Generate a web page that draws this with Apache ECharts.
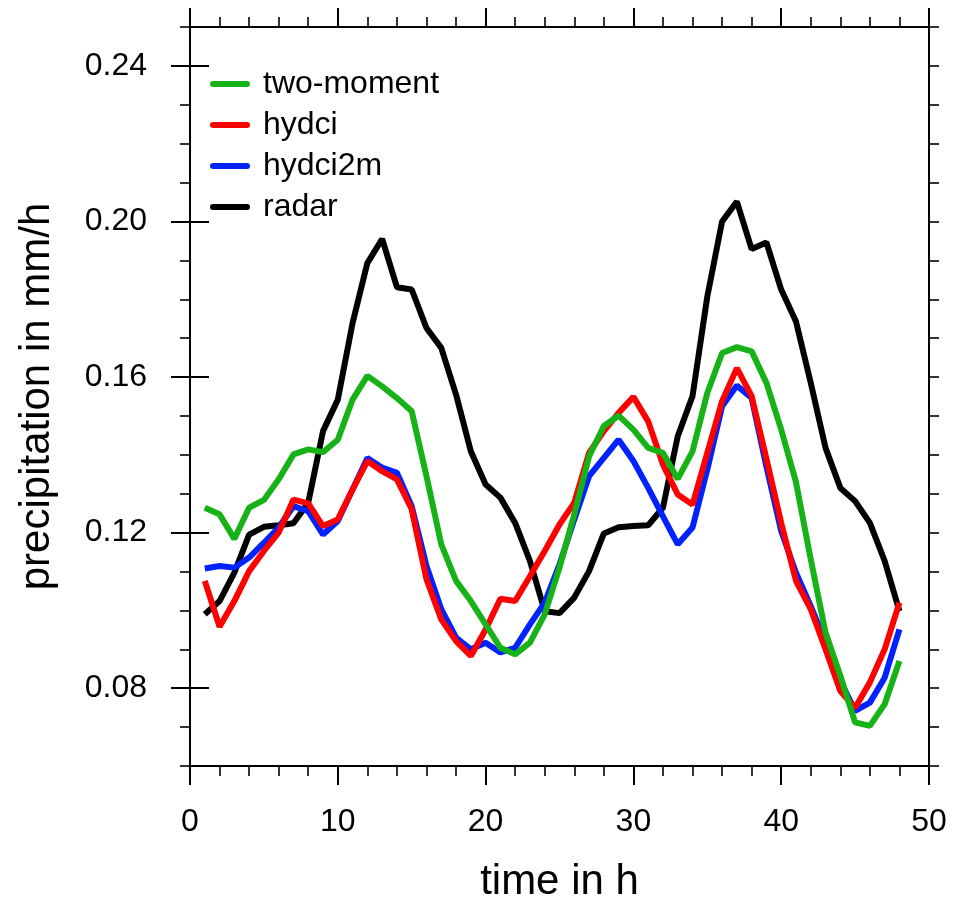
<!DOCTYPE html>
<html>
<head>
<meta charset="utf-8">
<script src="https://cdn.jsdelivr.net/npm/echarts@6/dist/echarts.min.js"></script>
<style>
html,body{margin:0;padding:0;background:#fff;}
#chart{width:961px;height:899px;}
</style>
</head>
<body>
<div id="chart"></div>
<script>
var hours = [1,2,3,4,5,6,7,8,9,10,11,12,13,14,15,16,17,18,19,20,21,22,23,24,25,26,27,28,29,30,31,32,33,34,35,36,37,38,39,40,41,42,43,44,45,46,47,48];

var radar = [0.0990,0.1024,0.1097,0.1195,0.1215,0.1219,0.1224,0.1277,0.1461,0.1542,0.1739,0.1893,0.1955,0.1831,0.1825,0.1726,0.1675,0.1555,0.1409,0.1324,0.1290,0.1225,0.1127,0.0998,0.0993,0.1033,0.1101,0.1198,0.1214,0.1217,0.1219,0.1264,0.1448,0.1551,0.1807,0.2000,0.2051,0.1929,0.1946,0.1825,0.1743,0.1585,0.1418,0.1315,0.1281,0.1225,0.1127,0.0998];

var hydci = [0.1076,0.0958,0.1024,0.1101,0.1153,0.1200,0.1285,0.1275,0.1217,0.1234,0.1311,0.1384,0.1358,0.1337,0.1260,0.1080,0.0977,0.0921,0.0883,0.0951,0.1030,0.1024,0.1088,0.1153,0.1221,0.1277,0.1405,0.1461,0.1508,0.1549,0.1486,0.1375,0.1298,0.1272,0.1405,0.1538,0.1623,0.1551,0.1390,0.1225,0.1076,0.1003,0.0900,0.0793,0.0750,0.0815,0.0900,0.1020];

var hydci2m = [0.1108,0.1114,0.1110,0.1136,0.1174,0.1213,0.1268,0.1255,0.1195,0.1230,0.1311,0.1392,0.1367,0.1354,0.1268,0.1114,0.1003,0.0930,0.0900,0.0917,0.0892,0.0904,0.0964,0.1020,0.1118,0.1234,0.1345,0.1392,0.1439,0.1384,0.1315,0.1242,0.1170,0.1213,0.1362,0.1525,0.1578,0.1546,0.1370,0.1204,0.1097,0.1011,0.0917,0.0819,0.0742,0.0763,0.0827,0.0951];

var twoMoment = [0.1264,0.1247,0.1184,0.1264,0.1284,0.1337,0.1401,0.1414,0.1407,0.1439,0.1542,0.1603,0.1576,0.1546,0.1512,0.1345,0.1170,0.1076,0.1024,0.0964,0.0904,0.0887,0.0917,0.0990,0.1110,0.1247,0.1396,0.1474,0.1501,0.1465,0.1418,0.1405,0.1338,0.1409,0.1559,0.1662,0.1677,0.1666,0.1585,0.1465,0.1330,0.1131,0.0943,0.0832,0.0712,0.0703,0.0759,0.0870];

var yMajorTicks = [0.08,0.12,0.16,0.20,0.24];
var xTitle = 'time in h';
var yTitle = 'precipitation in mm/h';

function pairs(vals){ return hours.map(function(h,i){ return [h, vals[i]]; }); }

var FONT = '"Liberation Sans", Arial, Helvetica, sans-serif';
var AX = {color:'#000', width:2};

function xAx(pos, labels){
  return {
    type:'value', position:pos, min:0, max:50, interval:10,
    axisLine:{show:true, onZero:false, lineStyle:AX},
    axisTick:{show:true, length:19, lineStyle:AX},
    minorTick:{show:true, splitNumber:5, length:10, lineStyle:{color:'#000', width:1.6}},
    splitLine:{show:false}, minorSplitLine:{show:false},
    axisLabel:{show:labels, fontSize:32, margin:40, color:'#000', fontFamily:FONT},
    name: labels ? xTitle : '', nameLocation:'middle', nameGap:95,
    nameTextStyle:{fontSize:42, color:'#000', fontFamily:FONT}
  };
}
function yMinor(pos, labels){
  return {
    type:'value', position:pos, min:0.06, max:0.25, interval:0.01,
    axisLine:{show:true, onZero:false, lineStyle:AX},
    axisTick:{show:true, length:10, lineStyle:{color:'#000', width:1.6}},
    splitLine:{show:false},
    axisLabel:{show:labels, fontSize:32, margin:43, color:'#000', fontFamily:FONT,
      formatter:function(v){ var k=Math.round(v*100); return (k%4===0 && k>=8 && k<=24) ? v.toFixed(2) : ''; }},
    name: labels ? yTitle : '', nameLocation:'middle', nameGap:132, nameRotate:90,
    nameTextStyle:{fontSize:42, color:'#000', fontFamily:FONT}
  };
}
function yMajor(pos){
  return {
    type:'value', position:pos, min:0.06, max:0.25,
    axisLine:{show:false},
    axisTick:{show:true, length:19, lineStyle:AX, customValues:yMajorTicks},
    splitLine:{show:false},
    axisLabel:{show:false}
  };
}

var chart = echarts.init(document.getElementById('chart'), null, {renderer:'canvas'});
var lineIcon = 'path://M3,0 L37,0 A3,3 0 0 1 37,6 L3,6 A3,3 0 0 1 3,0 Z';
function ser(name, vals, color){
  return {name:name, type:'line', data:pairs(vals), xAxisIndex:0, yAxisIndex:0,
    showSymbol:false, symbol:'none', lineStyle:{width:6, color:color}, itemStyle:{color:color},
    emphasis:{disabled:true}};
}
chart.setOption({
  animation:false,
  backgroundColor:'#fff',
  grid:{left:190, right:32, top:27, bottom:133, containLabel:false, outerBoundsMode:'none'},
  legend:{
    data:['two-moment','hydci','hydci2m','radar'],
    orient:'vertical', left:210, top:68, padding:0,
    itemWidth:40, itemHeight:6, itemGap:9,
    icon:lineIcon,
    textStyle:{fontSize:32, lineHeight:30, color:'#000', fontFamily:FONT, padding:[0,0,0,8]},
    selectedMode:false
  },
  xAxis:[xAx('bottom', true), xAx('top', false)],
  yAxis:[yMinor('left', true), yMajor('left'), yMinor('right', false), yMajor('right')],
  series:[
    ser('radar', radar, '#000000'),
    ser('hydci2m', hydci2m, '#0022ff'),
    ser('hydci', hydci, '#ff0000'),
    ser('two-moment', twoMoment, '#17b217')
  ]
});
</script>
</body>
</html>
